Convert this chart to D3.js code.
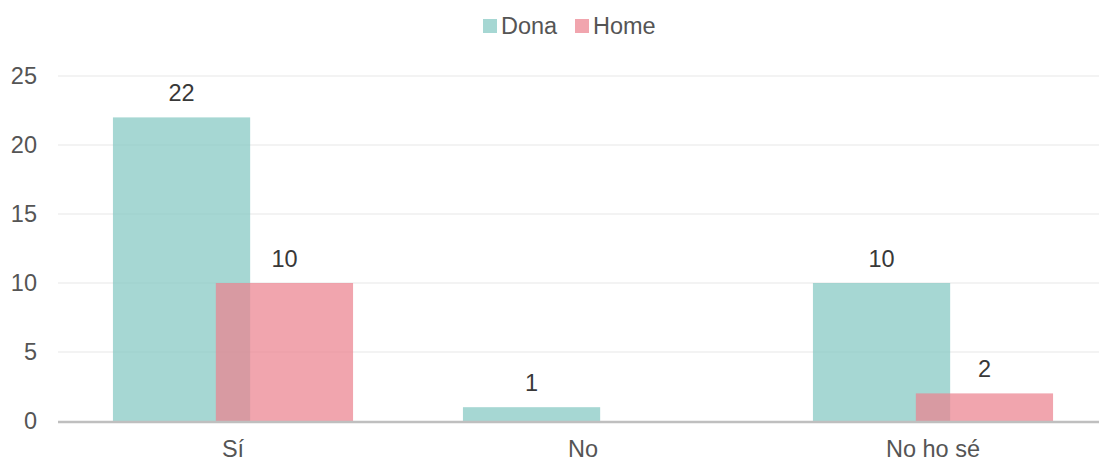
<!DOCTYPE html>
<html>
<head>
<meta charset="utf-8">
<script src="https://cdn.jsdelivr.net/npm/d3@7"></script>
<style>
  html, body { margin: 0; padding: 0; background: #fff; }
  svg { display: block; font-family: "Liberation Sans", Arial, sans-serif; }
</style>
</head>
<body>
<svg id="chart" width="1099" height="461"></svg>
<script>
// Responses grouped by answer, split by gender
const categories = ["Sí", "No", "No ho sé"];
const seriesNames = ["Dona", "Home"];
const dona = [22, 1, 10];
const home = [10, 0, 2];
const yTicks = [0, 5, 10, 15, 20, 25];

const colors = { Dona: "rgb(131,199,194)", Home: "rgb(236,130,143)" };
const barOpacity = 0.72;
const fontSize = 23.5;

const W = 1099, H = 461;
const plotLeft = 58, plotRight = 1108, plotTop = 76, plotBottom = 421;

const svg = d3.select("#chart");

const x = d3.scaleBand().domain(categories).range([plotLeft, plotRight]).paddingInner(0).paddingOuter(0);
const y = d3.scaleLinear().domain([0, 25]).range([plotBottom, plotTop]);

const step = x.step();
const barW = step * 0.392;
const groupHalf = step * 0.343;
const homeShift = step * 0.294;

// horizontal gridlines
svg.append("g")
  .selectAll("line")
  .data(yTicks.filter(d => d > 0))
  .join("line")
  .attr("x1", plotLeft).attr("x2", W)
  .attr("y1", d => y(d)).attr("y2", d => y(d))
  .attr("stroke", "#efefef").attr("stroke-width", 1.5);

// y axis labels
const yAxis = d3.axisLeft(y).tickValues(yTicks).tickSize(0).tickPadding(21);
svg.append("g")
  .attr("transform", `translate(${plotLeft},0)`)
  .call(yAxis)
  .call(g => g.select(".domain").remove())
  .call(g => g.selectAll("text")
    .attr("fill", "#555").attr("font-size", fontSize)
    .attr("font-family", "Liberation Sans, Arial, sans-serif"));

const rows = categories.map((c, i) => ({ cat: c, Dona: dona[i], Home: home[i] }));

// Dona bars
svg.append("g")
  .selectAll("rect")
  .data(rows)
  .join("rect")
  .attr("x", d => x(d.cat) + step / 2 - groupHalf)
  .attr("width", barW)
  .attr("y", d => y(d.Dona))
  .attr("height", d => y(0) - y(d.Dona))
  .attr("fill", colors.Dona)
  .attr("fill-opacity", barOpacity);

// Home bars (drawn on top, overlapping)
svg.append("g")
  .selectAll("rect")
  .data(rows.filter(d => d.Home > 0))
  .join("rect")
  .attr("x", d => x(d.cat) + step / 2 - groupHalf + homeShift)
  .attr("width", barW)
  .attr("y", d => y(d.Home))
  .attr("height", d => y(0) - y(d.Home))
  .attr("fill", colors.Home)
  .attr("fill-opacity", barOpacity);

// value labels
const labels = svg.append("g")
  .attr("font-size", fontSize).attr("fill", "#383838").attr("text-anchor", "middle");
labels.selectAll("text.dona")
  .data(rows)
  .join("text").attr("class", "dona")
  .attr("x", d => x(d.cat) + step / 2 - groupHalf + barW / 2)
  .attr("y", d => y(d.Dona) - 16)
  .text(d => d.Dona);
labels.selectAll("text.home")
  .data(rows.filter(d => d.Home > 0))
  .join("text").attr("class", "home")
  .attr("x", d => x(d.cat) + step / 2 - groupHalf + homeShift + barW / 2)
  .attr("y", d => y(d.Home) - 16)
  .text(d => d.Home);

// x axis baseline and category labels
svg.append("line")
  .attr("x1", plotLeft).attr("x2", W)
  .attr("y1", y(0) + 1).attr("y2", y(0) + 1)
  .attr("stroke", "#bfbfbf").attr("stroke-width", 2.5);

const xAxis = d3.axisBottom(x).tickSize(0).tickPadding(19);
svg.append("g")
  .attr("transform", `translate(0,${plotBottom})`)
  .call(xAxis)
  .call(g => g.select(".domain").remove())
  .call(g => g.selectAll("text")
    .attr("fill", "#555").attr("font-size", fontSize)
    .attr("font-family", "Liberation Sans, Arial, sans-serif"));

// legend
const legend = svg.append("g").attr("font-size", fontSize).attr("fill", "#555");
const legendX = [483, 575];
seriesNames.forEach((name, i) => {
  const g = legend.append("g").attr("transform", `translate(${legendX[i]},19)`);
  g.append("rect").attr("width", 14).attr("height", 14)
    .attr("fill", colors[name]).attr("fill-opacity", barOpacity);
  g.append("text").attr("x", 18).attr("y", 14.5).text(name);
});
</script>
</body>
</html>
